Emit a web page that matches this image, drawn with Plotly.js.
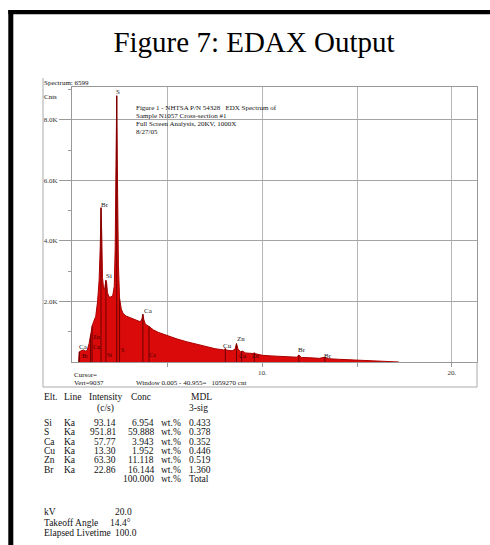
<!DOCTYPE html>
<html>
<head>
<meta charset="utf-8">
<script src="https://cdn.plot.ly/plotly-3.0.1.min.js"></script>
<style>html,body{margin:0;padding:0;background:#fff;}#chart{width:490px;height:545px;}</style>
</head>
<body>
<div id="chart"></div>
<script>
// ---- spectrum (keV, counts) ----
const energy = [0.30,0.33,0.40,0.50,0.55,0.65,0.75,0.85,0.95,1.02,1.10,1.20,1.30,1.38,1.44,1.48,1.52,1.56,1.62,1.68,1.74,1.78,1.82,1.90,2.00,2.10,2.18,2.23,2.27,2.31,2.35,2.40,2.46,2.55,2.65,2.80,3.00,3.20,3.40,3.55,3.64,3.69,3.74,3.82,4.00,4.25,4.50,5.00,5.50,6.00,6.50,7.00,7.50,7.95,8.04,8.12,8.40,8.55,8.63,8.71,8.85,8.95,9.10,9.50,9.57,9.65,10.0,10.5,11.0,11.5,11.80,11.92,12.05,12.5,13.0,13.29,13.45,14.0,15.0,16.0,17.0,17.2];
const counts = [0,330,360,380,400,360,380,600,1000,1200,1350,1500,2000,2700,3800,5100,4200,2800,2400,2450,2700,2600,2300,2150,2150,2200,2500,3800,6500,8800,6000,3200,2100,1750,1600,1520,1470,1420,1370,1330,1420,1580,1400,1250,1180,1060,980,860,760,670,590,510,440,400,440,390,370,420,610,420,340,360,300,280,300,270,220,200,180,160,160,230,150,140,120,160,110,90,60,30,10,0];

// element marker lines (keV, height in counts)
const markerE = [0.34,0.93,1.01,1.48,1.74,2.31,2.46,3.69,4.01,8.04,8.63,8.90,9.57,11.92,13.29];
const markerH = [340,900,1200,5100,2700,8800,2100,1580,1180,440,610,360,300,230,160];

// peak labels
const peakText = ['S','Br','Si','Ca','Ca','Cu','Zn','Br','Br'];
const peakE    = [2.37,1.69,1.90,3.96,0.58,8.18,8.87,12.09,13.46];
const peakC    = [8930,5190,2840,1690,500,530,760,400,200];
const innerText = ['Zn','Cu','Br','Si','S','Ca','Cu','Zn'];
const innerE    = [1.24,1.24,0.66,1.95,2.64,4.22,8.95,9.62];
const innerC    = [830,500,200,230,400,230,200,200];

// axis ticks
const yTickVals = [2000,4000,6000,8000];
const yTickText = ['2.0K','4.0K','6.0K','8.0K'];
const yMinor = [1000,3000,5000,7000,9000];
const xTickVals = [5,10,15,20];
const xTickText = ['','10.','','20.'];

// table
const elements = ['Si','S','Ca','Cu','Zn','Br'];
const lineNames = ['Ka','Ka','Ka','Ka','Ka','Ka'];
const intensity = [93.14,951.81,57.77,13.30,63.30,22.86];
const conc = [6.954,59.888,3.943,1.952,11.118,16.144];
const mdl = [0.433,0.378,0.352,0.446,0.519,1.360];
const totalConc = 100.000;
const params = ['kV','Takeoff Angle','Elapsed Livetime'];
const paramVals = ['20.0','14.4°','100.0'];

// ---- layout geometry ----
const W=490,H=545,L=72,R=477,T=87,B=362;
const px = x => (x-L)/(R-L);
const py = y => (B-y)/(B-T);
const serif = 'Liberation Serif, Times New Roman, serif';

const mx=[], my=[];
markerE.forEach((e,i)=>{mx.push(e,e,null); my.push(0,markerH[i],null);});

const traces = [
  {x:energy,y:counts,type:'scatter',mode:'lines',fill:'tozeroy',
   fillcolor:'rgb(218,10,10)',line:{color:'rgb(170,0,0)',width:1},hoverinfo:'skip'},
  {x:mx,y:my,type:'scatter',mode:'lines',line:{color:'rgb(110,0,0)',width:1},hoverinfo:'skip'}
];

const ann = [];
function txt(t,x,y,size,anchor,color,xref,yref){
  ann.push({text:t,x:x,y:y,xref:xref||'paper',yref:yref||'paper',showarrow:false,borderpad:0,
    xanchor:anchor||'left',yanchor:'middle',font:{family:serif,size:size,color:color||'#111'}});
}
peakText.forEach((t,i)=>txt(t,peakE[i],peakC[i],7,'center','#222','x','y'));
innerText.forEach((t,i)=>txt(t,innerE[i],innerC[i],6,'center','#3a0000','x','y'));

txt('Spectrum: 6599',px(43),py(83),7);
txt('Cnts',px(43),py(97),7);
const hdr=['Figure 1 - NHTSA P/N 54328   EDX Spectrum of','Sample N1057 Cross-section #1','Full Screen Analysis, 20KV, 1000X','8/27/05'];
hdr.forEach((t,i)=>txt(t,px(135),py(108+i*8),7));
txt('Cursor=',px(73),py(375),7);
txt('Vert=9037',px(73),py(383),7);
txt('Window 0.005 - 40.955=   1059270 cnt',px(135),py(383),7);

// table
const fs=9.5;
txt('Elt.',px(43),py(397),fs); txt('Line',px(63),py(397),fs);
txt('Intensity',px(88),py(397),fs); txt('Conc',px(130),py(397),fs); txt('MDL',px(190),py(397),fs);
txt('(c/s)',px(96),py(408),fs); txt('3-sig',px(188),py(408),fs);
elements.forEach((e,i)=>{
  const y=py(423+i*9.3);
  txt(e,px(43),y,fs); txt(lineNames[i],px(63),y,fs);
  txt(intensity[i].toFixed(2),px(117),y,fs,'right');
  txt(conc[i].toFixed(3),px(155),y,fs,'right');
  txt('wt.%',px(160),y,fs);
  txt(mdl[i].toFixed(3),px(188),y,fs);
});
txt(totalConc.toFixed(3),px(155),py(479),fs,'right'); txt('wt.%',px(160),py(479),fs); txt('Total',px(188),py(479),fs);
params.forEach((p,i)=>{const y=py(512+i*10.5); txt(p,px(43),y,fs); txt(paramVals[i],px(i===1?109:114),y,fs);});

const shapes = [
  {type:'line',xref:'paper',yref:'paper',x0:px(10.8),x1:px(10.8),y0:py(10),y1:py(545),line:{color:'#000',width:5}},
  {type:'line',xref:'paper',yref:'paper',x0:px(8.3),x1:px(490),y0:py(12.2),y1:py(12.2),line:{color:'#000',width:4.3}},
  {type:'line',xref:'paper',yref:'paper',x0:px(43),x1:px(43),y0:py(78),y1:py(387),line:{color:'#aaa',width:1}},
  {type:'line',xref:'paper',yref:'paper',x0:px(43),x1:px(R),y0:py(387),y1:py(387),line:{color:'#aaa',width:1}},
  {type:'line',xref:'paper',yref:'paper',x0:px(R),x1:px(R),y0:py(362),y1:py(387),line:{color:'#aaa',width:1}}
];

const layout = {
  width:W,height:H,margin:{l:L,r:W-R,t:T,b:H-B},
  paper_bgcolor:'#fff',plot_bgcolor:'#fff',showlegend:false,
  title:{text:'Figure 7: EDAX Output',font:{family:serif,size:29,color:'#000'},
    x:254/W,xref:'container',xanchor:'center',y:1-42/H,yref:'container',yanchor:'middle'},
  xaxis:{range:[-0.05,21.32],tickvals:xTickVals,ticktext:xTickText,showgrid:true,gridcolor:'#b5b5b5',gridwidth:1,
    zeroline:false,showline:true,linecolor:'#999',linewidth:1,mirror:true,ticks:'outside',ticklen:4,tickcolor:'#999',
    tickfont:{family:serif,size:7,color:'#333'}},
  yaxis:{range:[0,9090],tickvals:yTickVals,ticktext:yTickText,showgrid:true,gridcolor:'#a5a5a5',gridwidth:1,
    zeroline:false,showline:true,linecolor:'#999',linewidth:1,mirror:true,ticks:'outside',ticklen:12,tickcolor:'#999',
    tickfont:{family:serif,size:7,color:'#333'},
    minor:{tickvals:yMinor,ticks:'outside',ticklen:3,tickcolor:'#999',showgrid:false}},
  annotations:ann,shapes:shapes
};
Plotly.newPlot('chart',traces,layout,{staticPlot:true,displayModeBar:false});
</script>
</body>
</html>
